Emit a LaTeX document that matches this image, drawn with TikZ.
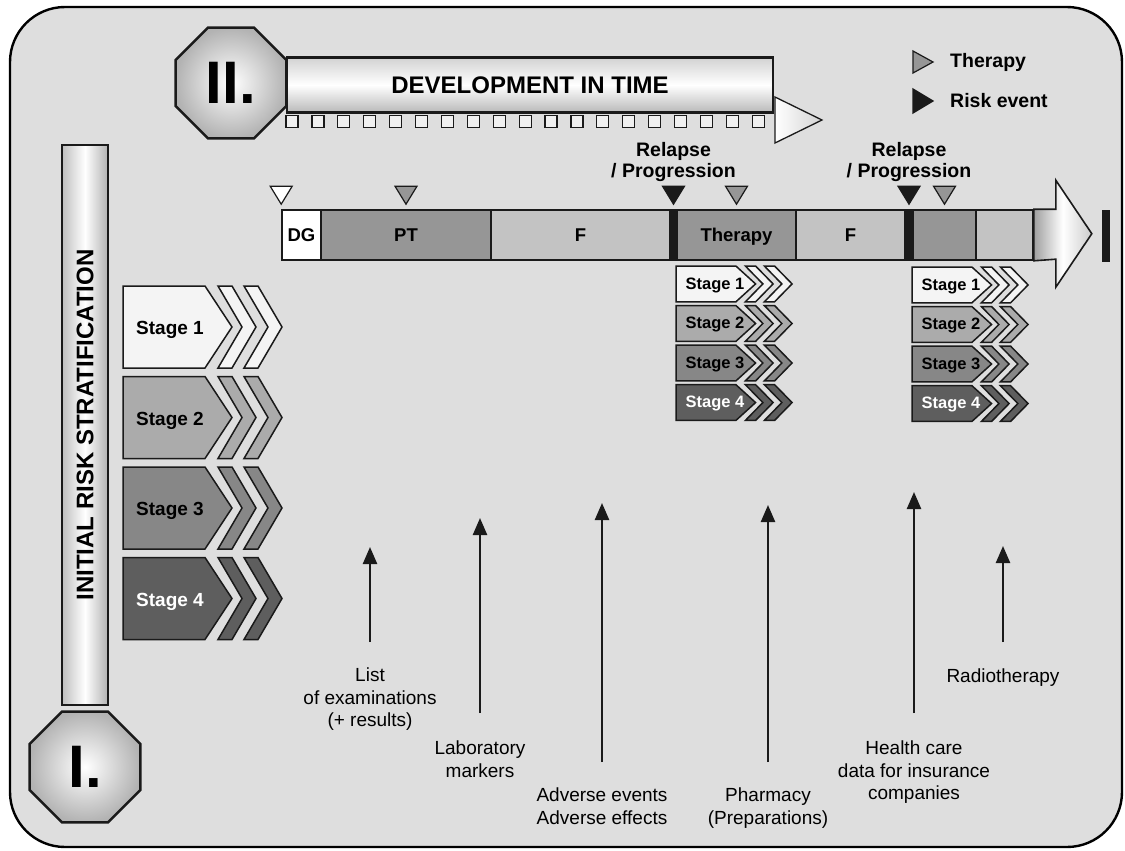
\documentclass[tikz,border=0pt]{standalone}
\usepackage{fontspec}
\setmainfont{Liberation Sans}
\usetikzlibrary{shapes.geometric,arrows.meta,positioning,calc}
\definecolor{panelbg}{HTML}{DEDEDE}
\definecolor{inkblack}{HTML}{1A1A1A}
\definecolor{stageone}{HTML}{F4F4F4}
\definecolor{stagetwo}{HTML}{ABABAB}
\definecolor{stagethree}{HTML}{878787}
\definecolor{stagefour}{HTML}{5E5E5E}
\definecolor{phasedark}{HTML}{969696}
\definecolor{phaselight}{HTML}{C3C3C3}
\tikzset{
  octo/.style={regular polygon,regular polygon sides=8,minimum size=120pt,inner sep=0pt,
    draw=inkblack,line width=2.6pt,shading=radial,inner color=white,outer color=gray!60,
    font=\fontsize{60}{60}\selectfont\bfseries},
  bigbar/.style={rectangle,draw=inkblack,line width=2.6pt,inner sep=0pt,
    top color=gray!35,bottom color=gray!55,middle color=white,
    font=\fontsize{24}{24}\selectfont\bfseries},
  phase/.style={rectangle,draw=inkblack,line width=1.6pt,minimum height=50pt,inner sep=0pt,
    text height=13.5pt,text depth=0pt,fill=#1,font=\fontsize{18.5}{20}\selectfont\bfseries},
  phase/.default={phaselight},
  marker/.style={draw=inkblack,line width=1.2pt,line join=miter,fill=#1},
  marker/.default={phasedark},
  stagebox/.style={draw=inkblack,line width=1.5pt,line join=miter},
  srcarrow/.style={-{Triangle[length=17pt,width=14pt]},line width=2.4pt,draw=inkblack},
  srclabel/.style={font=\fontsize{19}{22.5}\selectfont,align=center,inner sep=0pt,anchor=north},
  boldlabel/.style={font=\fontsize{19.5}{21.5}\selectfont\bfseries,align=center,inner sep=0pt},
}
\begin{document}
\begin{tikzpicture}[x=1pt,y=-1pt,
  tickbox/.style={rectangle,draw=inkblack,line width=1.2pt,fill=gray!12,minimum size=12pt,inner sep=0pt},
]
  \useasboundingbox (0,0) rectangle (1125,851);
  \draw[line width=2.4pt,fill=panelbg,rounded corners=55pt] (10,7) rectangle (1122,847);

  % development in time
  \node[bigbar,minimum width=486pt,minimum height=55pt] (devbar) at (530,85) {DEVELOPMENT IN TIME};
  \foreach \k in {0,...,18}
    \node[tickbox] (tick\k) at (292+\k*25.9,121.5) {};
  \draw[line width=1.3pt,draw=inkblack,left color=white,right color=gray!35]
    (775,97) -- (822,120) -- (775,143) -- cycle;
  \node[octo] (octtwo) at (231,83) {II.};

  % legend
  \node[boldlabel,anchor=west] (legther) at (950,62) {Therapy};
  \node[boldlabel,anchor=west] (legrisk) at (950,101) {Risk event};
  \draw[marker] ([xshift=-37pt,yshift=11pt]legther.west) -- ++(20,11) -- ++(-20,11) -- cycle;
  \draw[marker=inkblack] ([xshift=-37pt,yshift=12pt]legrisk.west) -- ++(20,12) -- ++(-20,12) -- cycle;

  % initial risk stratification
  \node[bigbar,minimum width=46pt,minimum height=560pt,
    left color=gray!50,right color=gray!60,middle color=white] (riskbar) at (85,425) {};
  \node[rotate=90,inner sep=0pt,font=\fontsize{24}{24}\selectfont\bfseries] (risktext) at (riskbar.center)
    {INITIAL RISK STRATIFICATION};
  \node[octo] (octone) at (85,767) {I.};

  % stage stacks
  \foreach \stk/\tx/\ty/\sx/\sy/\fs in {big/123/286/1/1/19,one/676/266/0.73/0.437/16.5,two/912/267/0.73/0.437/16.5}{
    \begin{scope}[shift={(\tx,\ty)},xscale=\sx,yscale=\sy]
      \foreach \i/\col/\tcol in {1/stageone/black,2/stagetwo/black,3/stagethree/black,4/stagefour/white}{
        \pgfmathsetmacro{\yy}{(\i-1)*90.5}
        \draw[stagebox,fill=\col] (0,\yy) -- (82,\yy) -- (109,\yy+41) -- (82,\yy+82) -- (0,\yy+82) -- cycle;
        \foreach \cx in {95,121}
          \draw[stagebox,fill=\col] (\cx,\yy) -- ++(14,0) -- ++(24,41) -- ++(-24,41) -- ++(-14,0) -- ++(24,-41) -- cycle;
        \node[anchor=west,inner sep=0pt,text=\tcol,font=\fontsize{\fs}{\fs}\selectfont\bfseries]
          (stg\stk\i) at (13,\yy+44) {Stage \i};
      }
    \end{scope}
  }

  % timeline
  \node[phase=white,minimum width=39pt] (dg) at (301.5,235) {DG};
  \node[phase=phasedark,minimum width=170pt] (pt) at (406,235) {PT};
  \node[phase,minimum width=179pt] (fone) at (580.5,235) {F};
  \node[phase=inkblack,minimum width=7pt] (sepone) at (673.5,235) {};
  \node[phase=phasedark,minimum width=119pt] (therapy) at (736.5,235) {Therapy};
  \node[phase,minimum width=109pt] (ftwo) at (850.5,235) {F};
  \node[phase=inkblack,minimum width=8pt] (septwo) at (909,235) {};
  \node[phase=phasedark,minimum width=63pt] (gthree) at (944.5,235) {};
  \node[phase,minimum width=57pt] (fthree) at (1004.5,235) {};
  \draw[line width=1.6pt,draw=inkblack,line join=miter,left color=gray!75,right color=gray!40,middle color=white]
    (fthree.north east) -- ++(22,0) -- ++(0,-29) -- ++(36,53.5) -- ++(-36,53.5) -- ++(0,-28) -- (fthree.south east) -- cycle;
  \fill[inkblack] (1102,210) rectangle (1110,262);

  \draw[marker=white] ([yshift=5pt]dg.north west) -- ++(-11,-18) -- ++(22,0) -- cycle;
  \draw[marker] ([yshift=5pt]pt.north) -- ++(-11,-18) -- ++(22,0) -- cycle;
  \draw[marker=inkblack] ([yshift=5pt]sepone.north) -- ++(-11,-18) -- ++(22,0) -- cycle;
  \draw[marker] ([yshift=5pt]therapy.north) -- ++(-11,-18) -- ++(22,0) -- cycle;
  \draw[marker=inkblack] ([yshift=5pt]septwo.north) -- ++(-11,-18) -- ++(22,0) -- cycle;
  \draw[marker] ([yshift=5pt]gthree.north) -- ++(-11,-18) -- ++(22,0) -- cycle;
  \node[boldlabel,anchor=south] (relone) at ([yshift=27pt]sepone.north) {Relapse\\/ Progression};
  \node[boldlabel,anchor=south] (reltwo) at ([yshift=27pt]septwo.north) {Relapse\\/ Progression};

  % data sources
  \node[srclabel] (exams) at (370,668) {List\\of examinations\\(+ results)};
  \node[srclabel] (labmark) at (480,741) {Laboratory\\markers};
  \node[srclabel] (adverse) at (602,788) {Adverse events\\Adverse effects};
  \node[srclabel] (pharm) at (768,788) {Pharmacy\\(Preparations)};
  \node[srclabel] (health) at (914,741) {Health care\\data for insurance\\companies};
  \node[srclabel] (radio) at (1003,669) {Radiotherapy};
  \coordinate (tipexams) at (370,547);
  \coordinate (tiplab) at (480,518);
  \coordinate (tipadverse) at (602,503);
  \coordinate (tippharm) at (768,505);
  \coordinate (tiphealth) at (914,492);
  \coordinate (tipradio) at (1003,546);
  \draw[srcarrow] ([yshift=26pt]exams.north) -- (tipexams);
  \draw[srcarrow] ([yshift=28pt]labmark.north) -- (tiplab);
  \draw[srcarrow] ([yshift=26pt]adverse.north) -- (tipadverse);
  \draw[srcarrow] ([yshift=26pt]pharm.north) -- (tippharm);
  \draw[srcarrow] ([yshift=28pt]health.north) -- (tiphealth);
  \draw[srcarrow] ([yshift=27pt]radio.north) -- (tipradio);
\end{tikzpicture}
\end{document}
